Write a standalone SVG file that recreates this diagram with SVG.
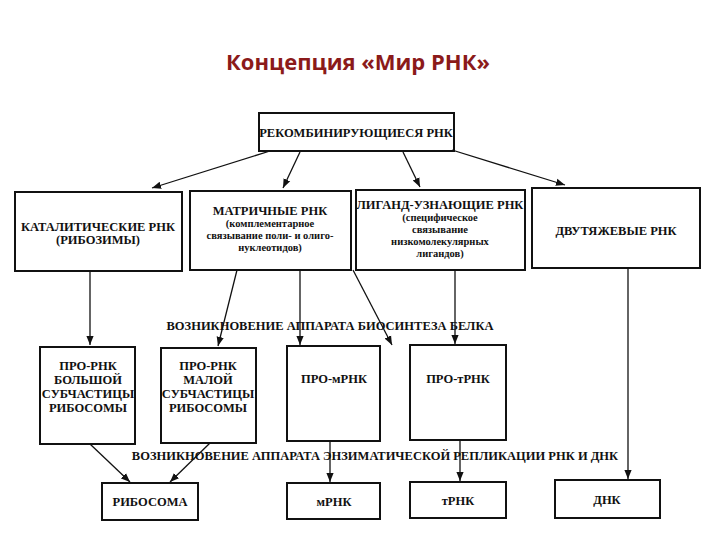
<svg xmlns="http://www.w3.org/2000/svg" width="720" height="540" viewBox="0 0 720 540">
<defs><marker id="a" viewBox="0 0 10 10" refX="10" refY="5" markerWidth="7" markerHeight="7" orient="auto"><path d="M0,1 L10,5 L0,9 Z" fill="#111"/></marker></defs>
<style>
rect{fill:#fff;stroke:#111;stroke-width:2}
text{font-family:"Liberation Serif",serif;font-weight:bold;fill:#111;text-anchor:middle;font-size:12.5px}
.s{font-size:10.5px}
line{stroke:#111;stroke-width:1.3;marker-end:url(#a)}
.t{font-family:"Open Sans","Liberation Sans",sans-serif;font-size:22px;fill:#8b1a1a}
</style>
<rect x="0" y="0" width="720" height="540" style="stroke:none"/>
<text class="t" x="358" y="70">Концепция «Мир РНК»</text>
<g id="top"><rect x="259" y="113" width="195" height="38"/><text x="356" y="137">РЕКОМБИНИРУЮЩИЕСЯ РНК</text></g>
<g id="cat"><rect x="15" y="192" width="167" height="79"/><text x="98" y="231">КАТАЛИТИЧЕСКИЕ РНК</text><text x="98" y="244">(РИБОЗИМЫ)</text></g>
<g id="matr"><rect x="190" y="191" width="161" height="79"/><text x="270" y="215">МАТРИЧНЫЕ РНК</text><text class="s" x="270" y="227">(комплементарное</text><text class="s" x="270" y="239">связывание поли- и олиго-</text><text class="s" x="270" y="251">нуклеотидов)</text></g>
<g id="lig"><rect x="356" y="190" width="169" height="80"/><text x="440" y="209">ЛИГАНД-УЗНАЮЩИЕ РНК</text><text class="s" x="440" y="221">(специфическое</text><text class="s" x="440" y="233">связывание</text><text class="s" x="440" y="245">низкомолекулярных</text><text class="s" x="440" y="257">лигандов)</text></g>
<g id="dvut"><rect x="532" y="188" width="168" height="80"/><text x="616" y="235">ДВУТЯЖЕВЫЕ РНК</text></g>
<text x="330" y="330">ВОЗНИКНОВЕНИЕ АППАРАТА БИОСИНТЕЗА БЕЛКА</text>
<g id="p1"><rect x="40" y="347" width="95" height="97"/><text x="88" y="370">ПРО-РНК</text><text x="88" y="384">БОЛЬШОЙ</text><text x="88" y="398">СУБЧАСТИЦЫ</text><text x="88" y="412">РИБОСОМЫ</text></g>
<g id="p2"><rect x="161" y="348" width="95" height="95"/><text x="208" y="370">ПРО-РНК</text><text x="208" y="384">МАЛОЙ</text><text x="208" y="398">СУБЧАСТИЦЫ</text><text x="208" y="412">РИБОСОМЫ</text></g>
<g id="p3"><rect x="287" y="346" width="93" height="95"/><text x="334" y="383">ПРО-мРНК</text></g>
<g id="p4"><rect x="410" y="345" width="96" height="95"/><text x="458" y="383">ПРО-тРНК</text></g>
<text x="375" y="460">ВОЗНИКНОВЕНИЕ АППАРАТА ЭНЗИМАТИЧЕСКОЙ РЕПЛИКАЦИИ РНК И ДНК</text>
<g id="rib"><rect x="102" y="483" width="96" height="37"/><text x="150" y="506">РИБОСОМА</text></g>
<g id="m"><rect x="287" y="483" width="93" height="36"/><text x="334" y="506">мРНК</text></g>
<g id="tr"><rect x="410" y="482" width="96" height="36"/><text x="458" y="505">тРНК</text></g>
<g id="dnk"><rect x="555" y="480" width="105" height="38"/><text x="607" y="504">ДНК</text></g>
<g id="connectors">
<line x1="270" y1="151" x2="152" y2="188"/>
<line x1="300" y1="152" x2="283" y2="188"/>
<line x1="403" y1="152" x2="420" y2="187"/>
<line x1="452" y1="150" x2="565" y2="185"/>
<line x1="90" y1="271" x2="90" y2="345"/>
<line x1="237" y1="270" x2="218" y2="346"/>
<line x1="300" y1="270" x2="300" y2="345"/>
<line x1="353" y1="270" x2="392" y2="345"/>
<line x1="455" y1="270" x2="455" y2="344"/>
<line x1="628" y1="268" x2="628" y2="479"/>
<line x1="90" y1="444" x2="130" y2="482"/>
<line x1="210" y1="443" x2="170" y2="482"/>
<line x1="330" y1="441" x2="330" y2="482"/>
<line x1="460" y1="440" x2="460" y2="481"/>
</g>
</svg>
